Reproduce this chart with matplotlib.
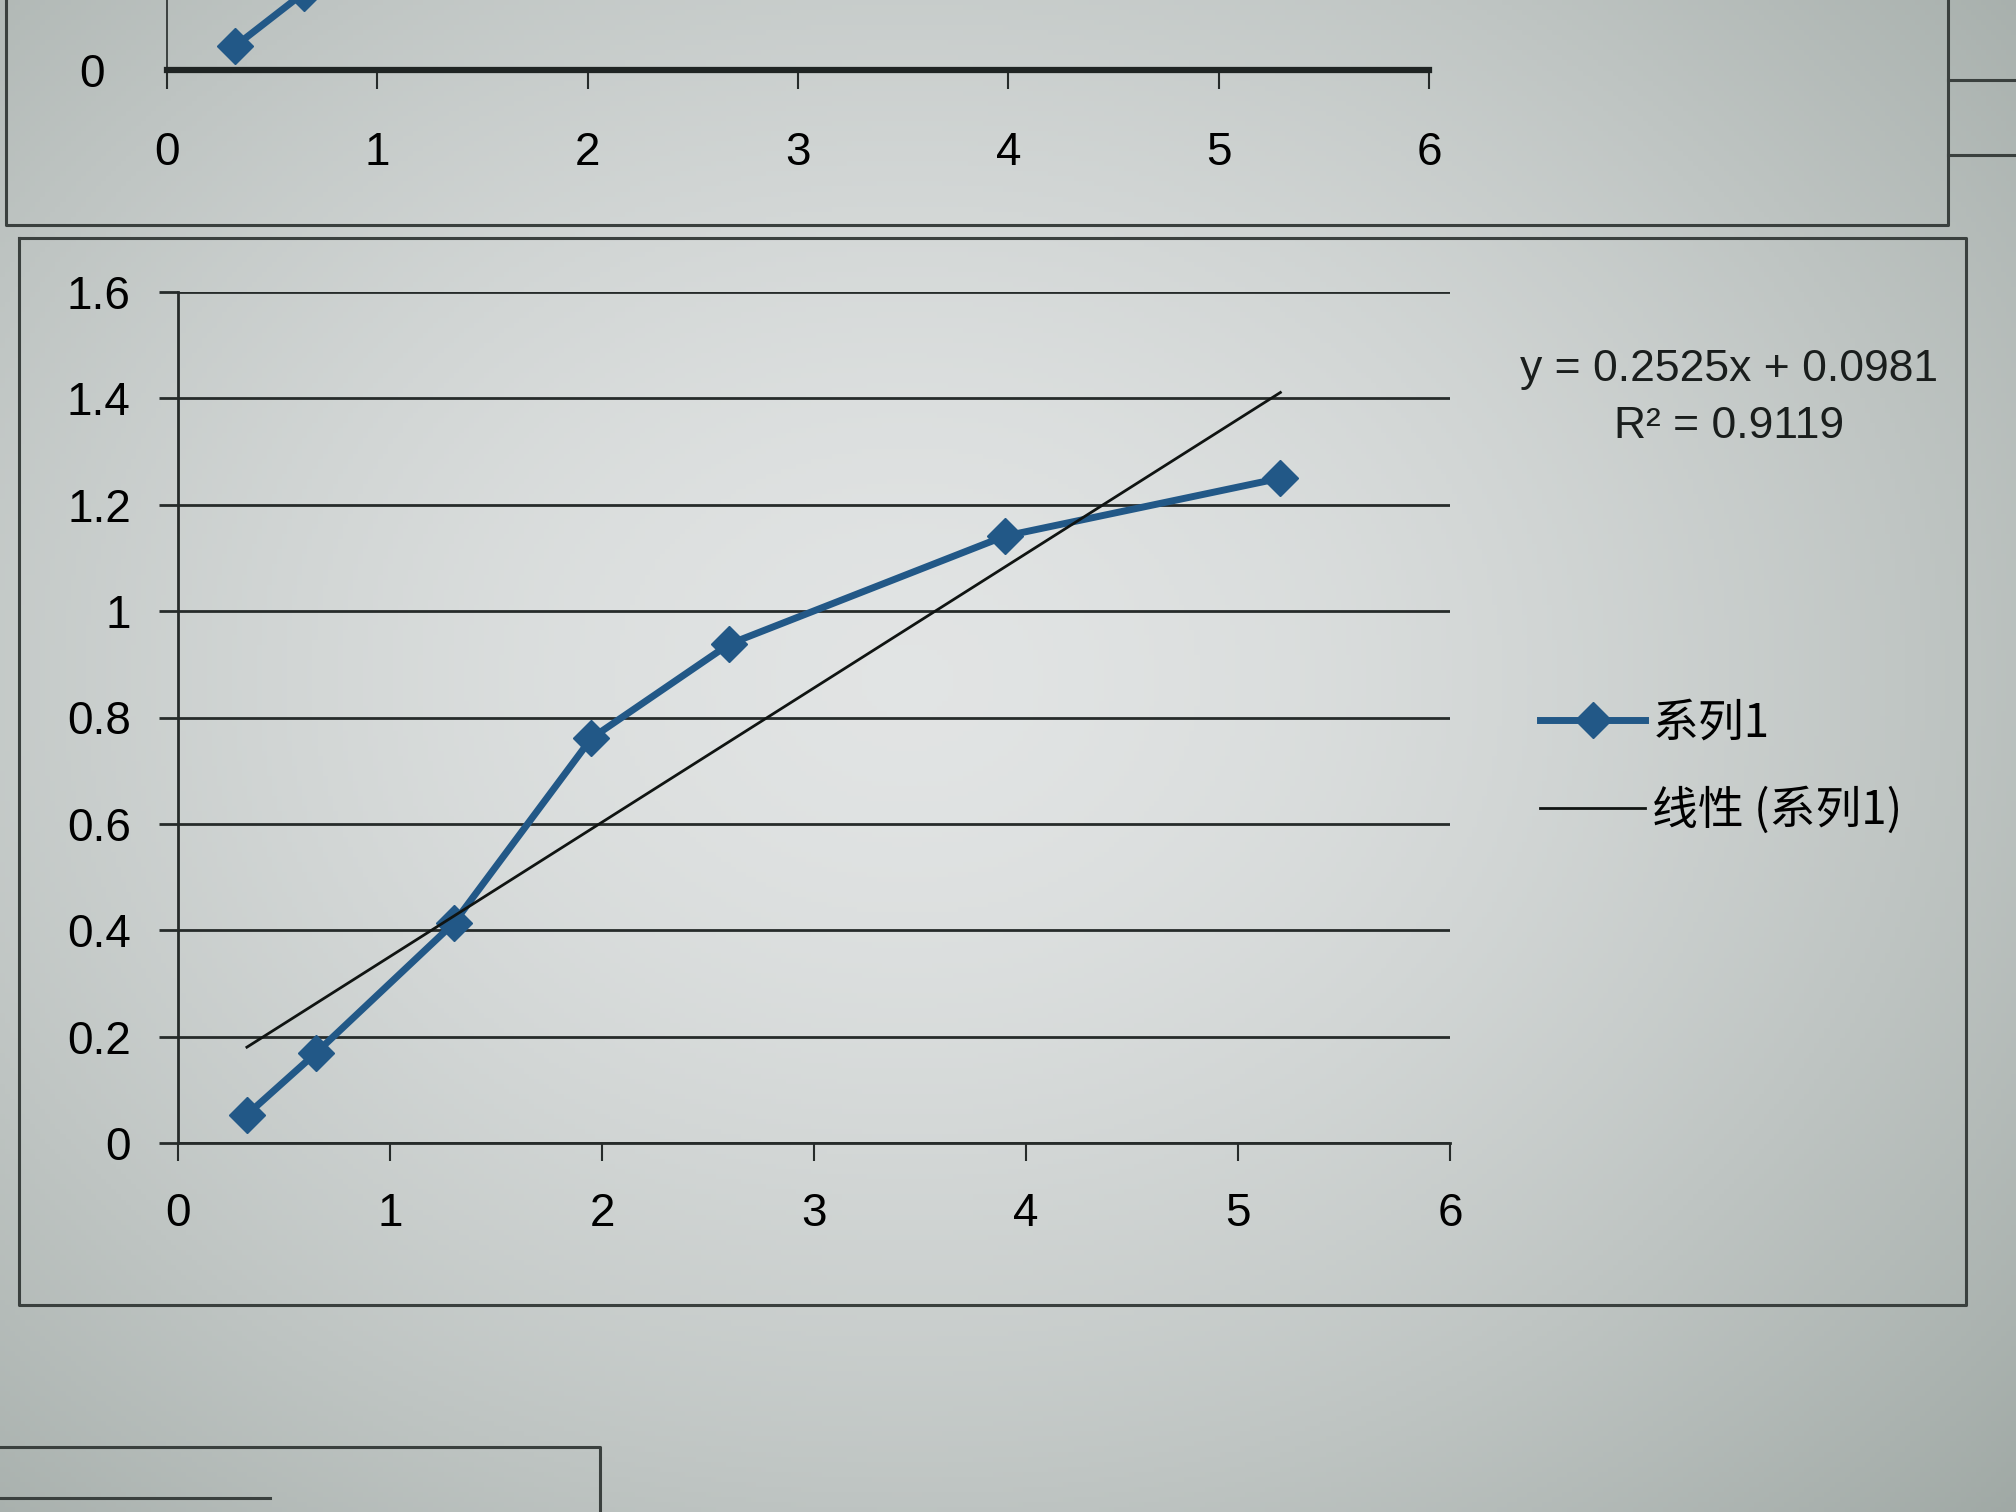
import matplotlib.pyplot as plt
import numpy as np
from matplotlib.lines import Line2D

plt.rcParams['font.family'] = ['Liberation Sans Narrow', 'Liberation Sans', 'Noto Sans CJK SC']

# main chart data (系列1)
x_vals = [0.325, 0.65, 1.3, 1.95, 2.6, 3.9, 5.2]
y_vals = [0.053, 0.169, 0.413, 0.761, 0.938, 1.141, 1.250]

# linear trendline as printed on the chart
slope = 0.2525
intercept = 0.0981
r2 = 0.9119

# cropped chart above: only its first segment is visible
top_x = [0.325, 0.65]
top_y = [0.053, 0.17]

x_ticks = [0, 1, 2, 3, 4, 5, 6]
y_ticks = [0, 0.2, 0.4, 0.6, 0.8, 1, 1.2, 1.4, 1.6]
y_labels = ['0', '0.2', '0.4', '0.6', '0.8', '1', '1.2', '1.4', '1.6']

BLUE = '#225887'
INK = '#262b2a'
W, H = 2016, 1512


def fx(px):
    return px / W


def fy(py):
    return 1 - py / H


fig = plt.figure(figsize=(20.16, 15.12), dpi=100)

# photographed screen: greyish background with a soft vignette
bg = fig.add_axes([0, 0, 1, 1], zorder=-10)
yy, xx = np.mgrid[0:1:300j, 0:1:400j]
r = np.sqrt(((xx - 0.45) / 0.75) ** 2 + ((yy - 0.45) / 0.8) ** 2)
r = np.clip(r, 0, 1)
inner = np.array([0.885, 0.895, 0.895])
outer = np.array([0.63, 0.665, 0.65])
img = inner[None, None, :] * (1 - r[..., None] ** 1.6) + outer[None, None, :] * r[..., None] ** 1.6
bg.imshow(img, extent=[0, 1, 0, 1], aspect='auto', origin='upper')
bg.set_xlim(0, 1)
bg.set_ylim(0, 1)
bg.axis('off')

# chart frames and spreadsheet lines (figure coordinates)
frame_kw = dict(color='#3a403e', lw=2.2, transform=fig.transFigure)
for xs, ys in [
    ([6, 6, 1948, 1948], [0, 225, 225, 0]),            # upper chart box
    ([19, 19, 1966, 1966, 19], [238, 1305, 1305, 238, 238]),  # main chart box
    ([0, 600, 600], [1447, 1447, 1512]),                # worksheet cell
    ([0, 270], [1498, 1498]),
    ([1948, 2016], [80, 80]),
    ([1948, 2016], [155, 155]),
]:
    fig.add_artist(Line2D([fx(v) for v in xs], [fy(v) for v in ys], **frame_kw))

# upper (cropped) chart
ax_top = fig.add_axes([fx(167), fy(70), fx(1429 - 167), 0.3])
ax_top.patch.set_alpha(0)
ax_top.plot(top_x, top_y, '-', color=BLUE, lw=5, marker='D', ms=18,
            clip_on=False)
ax_top.set_xlim(0, 6)
ax_top.set_ylim(0, 1.0)
ax_top.set_xticks(x_ticks)
ax_top.set_xticklabels([str(t) for t in x_ticks], fontsize=33)
ax_top.set_yticks([0])
ax_top.set_yticklabels(['0'], fontsize=33)
for s in ['top', 'right']:
    ax_top.spines[s].set_visible(False)
ax_top.spines['bottom'].set_linewidth(4.5)
ax_top.spines['bottom'].set_color('#1f2423')
ax_top.spines['left'].set_linewidth(1.2)
ax_top.spines['left'].set_color(INK)
ax_top.tick_params(axis='x', direction='out', length=14, width=1.5, color=INK, pad=30)
ax_top.tick_params(axis='y', length=0, pad=45)

# main chart
ax = fig.add_axes([fx(178), fy(1143), fx(1450 - 178), fy(292) - fy(1143)])
ax.patch.set_alpha(0)
ax.set_xlim(0, 6)
ax.set_ylim(0, 1.6)
ax.set_xticks(x_ticks)
ax.set_xticklabels([str(t) for t in x_ticks], fontsize=33)
ax.set_yticks(y_ticks)
ax.set_yticklabels(y_labels, fontsize=33)
ax.grid(axis='y', color=INK, lw=2.0)
ax.set_axisbelow(True)
for s in ['top', 'right']:
    ax.spines[s].set_visible(False)
for s in ['left', 'bottom']:
    ax.spines[s].set_color(INK)
    ax.spines[s].set_linewidth(2.0)
ax.tick_params(axis='x', direction='out', length=13, width=1.5, color=INK, pad=22)
ax.tick_params(axis='y', direction='out', length=14, width=2.0, color=INK, pad=20)

line_series, = ax.plot(x_vals, y_vals, '-', color=BLUE, lw=5, marker='D',
                       ms=18, mec=BLUE, label='系列1', zorder=4)
tx = np.array([min(x_vals), max(x_vals)])
line_trend, = ax.plot(tx, slope * tx + intercept, '-', color='#101412', lw=2.0,
                      label='线性 (系列1)', zorder=5)

fig.text(fx(1729), fy(369), f'y = {slope:.4f}x + {intercept:.4f}', fontsize=32,
         ha='center', va='center', color='#1a1e1d')
fig.text(fx(1729), fy(427), f'R² = {r2:.4f}', fontsize=32,
         ha='center', va='center', color='#1a1e1d')

leg = fig.legend(handles=[line_series, line_trend], loc='center left',
                 bbox_to_anchor=(fx(1540), fy(767)), frameon=False,
                 handlelength=2.3, handletextpad=0.15,
                 labelspacing=0.85, borderpad=0, borderaxespad=0,
                 prop={'family': ['Noto Sans CJK SC', 'DejaVu Sans'], 'size': 33})

fig.savefig('out.png', dpi=100)
